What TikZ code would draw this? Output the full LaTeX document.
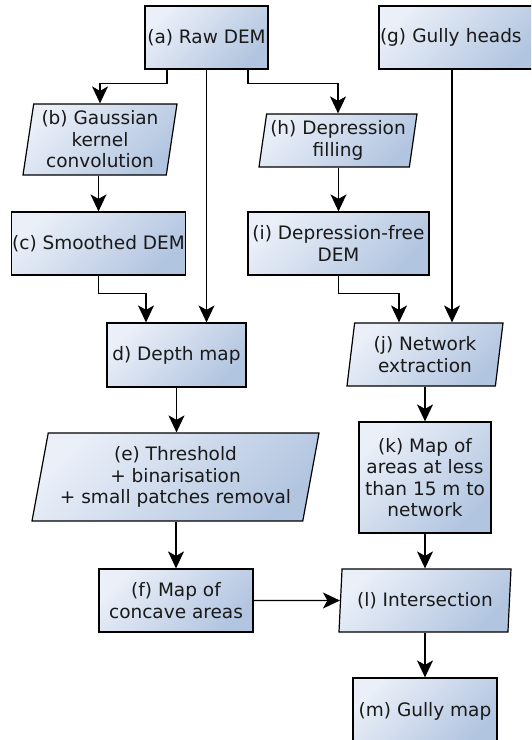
\documentclass[tikz,border=0pt]{standalone}
\usepackage{fontspec}
\setmainfont{DejaVu Sans}
\usetikzlibrary{shapes.geometric,arrows.meta}
\begin{document}
\begin{tikzpicture}[x=1pt, y=-1pt,
  base/.style={draw=black, line width=1.2pt, top color=boxlight,
    bottom color=boxdark, shading angle=45, text=black!90,
    font=\fontsize{18.5}{21.5}\selectfont, align=center, inner sep=0.5pt},
  proc/.style={base, rectangle},
  io/.style={base, trapezium, trapezium left angle=#1,
    trapezium right angle=180-#1, trapezium stretches body},
  flow/.style={line width=1.2pt,
    -{Stealth[length=17pt, width=16pt, inset=4.5pt]}}]
\definecolor{boxlight}{RGB}{234, 239, 248}
\definecolor{boxdark}{RGB}{178, 197, 224}
\useasboundingbox (0, 0) rectangle (531, 740);
\clip (0, 0) rectangle (531, 740);

\node[proc, minimum width=123, minimum height=63] (a) at (206.5, 37.5)
  {(a) Raw DEM};
\node[proc, minimum width=161, minimum height=63, text width=159,
  align=left] (g) at (459.5, 37.5) {(g) Gully heads};

\node[io=79.6, minimum width=154, minimum height=71] (b) at (100, 139.5)
  {(b) Gaussian\\kernel\\convolution};
\node[io=79.3, minimum width=158, minimum height=53] (h) at (338, 140.5)
  {(h) Depression\\filling};

\node[proc, minimum width=171, minimum height=63] (c) at (98.5, 243.5)
  {(c) Smoothed DEM};
\node[proc, minimum width=181, minimum height=63] (i) at (338.5, 243.5)
  {(i) Depression-free\\DEM};

\node[proc, minimum width=139, minimum height=64] (d) at (176.5, 355)
  {d) Depth map};
\node[io=78.3, minimum width=156, minimum height=63] (j) at (425, 354.5)
  {(j) Network\\extraction};

\node[io=75.3, minimum width=287, minimum height=88] (e) at (175.5, 477)
  {(e) Threshold\\+ binarisation\\+ small patches removal};
\node[proc, minimum width=132, minimum height=111] (k) at (425, 477.5)
  {(k) Map of\\areas at less\\than 15 m to\\network};

\node[proc, minimum width=154, minimum height=63] (f) at (176, 600.5)
  {(f) Map of\\concave areas};
\node[io=80.1, minimum width=172, minimum height=63] (l) at (425, 600.5)
  {(l) Intersection};

\node[proc, minimum width=144, minimum height=66] (m) at (425, 711)
  {(m) Gully map};

\draw[flow] ([xshift=-39.5]a.south) -- ++(0, 14) -| (b);
\draw[flow] (a.south) -- (a.south |- d.north);
\draw[flow] ([xshift=41.5]a.south) -- ++(0, 14) -| (h);
\draw[flow] (c.north |- b.south) -- (c.north);
\draw[flow] (i.north |- h.south) -- (i.north);
\draw[flow] (c.south) -- ++(0, 18) -| ([xshift=-30.5]d.north);
\draw[flow] (i.south) -- ++(0, 18) -| ([xshift=-26]j.center |- j.north);
\draw[flow] ([xshift=-7.5]g.south) -- ([xshift=-7.5]g.south |- j.north);
\draw[flow] (d.south) -- (d.south |- e.north);
\draw[flow] (k.north |- j.south) -- (k.north);
\draw[flow] (f.north |- e.south) -- (f.north);
\draw[flow] (k.south) -- (k.south |- l.north);
\draw[flow] (f) -- (l);
\draw[flow] (m.north |- l.south) -- (m.north);

\end{tikzpicture}
\end{document}
